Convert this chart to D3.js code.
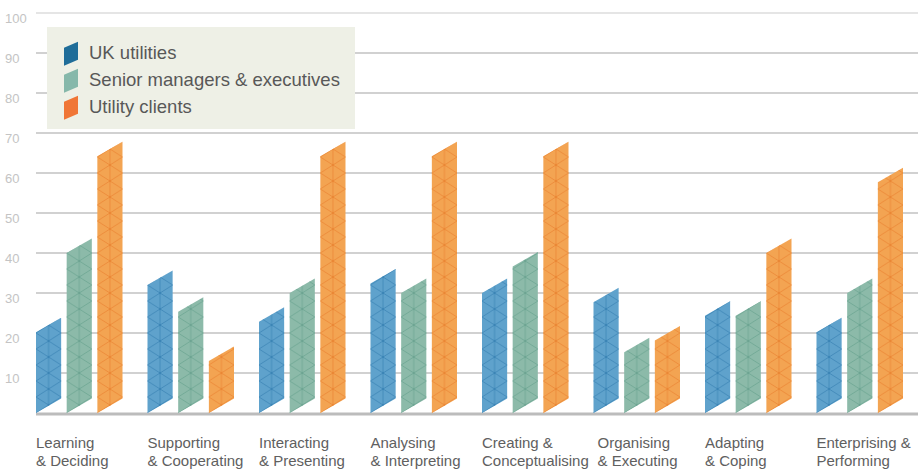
<!DOCTYPE html>
<html>
<head>
<meta charset="UTF-8">
<style>
  body { margin: 0; background: #fff; }
  svg { display: block; font-family: "Liberation Sans", Arial, sans-serif; }
  .ytick { fill: #c4c4c4; font-size: 13px; }
  .xlab { fill: #606060; font-size: 15px; }
  .legend text { fill: #585858; font-size: 18.5px; }
</style>
</head>
<body>
<svg id="chart"></svg>
<script src="https://d3js.org/d3.v7.min.js"></script>
<script>
// data
const categories = [
  ["Learning", "& Deciding"],
  ["Supporting", "& Cooperating"],
  ["Interacting", "& Presenting"],
  ["Analysing", "& Interpreting"],
  ["Creating &", "Conceptualising"],
  ["Organising", "& Executing"],
  ["Adapting", "& Coping"],
  ["Enterprising &", "Performing"]
];
const seriesNames = ["UK utilities", "Senior managers & executives", "Utility clients"];
const ukUtilities = [20.2, 32, 22.8, 32.4, 30, 27.7, 24.3, 20.2];
const seniorManagers = [40, 25.3, 30, 30, 36.6, 15.2, 24.3, 30];
const utilityClients = [64.2, 13, 64.2, 64.2, 64.2, 18.1, 40, 57.7];
const yTicks = [10, 20, 30, 40, 50, 60, 70, 80, 90, 100];

const barColors = ["#5fa2cc", "#8cbaa9", "#f3a452"];
const lineColors = ["#3a82b4", "#6aa390", "#ea8433"];
const swatchColors = ["#1f6d99", "#86b8aa", "#f07636"];

const width = 918, height = 470;
const svg = d3.select("#chart").attr("width", width).attr("height", height);

const x0 = d3.scaleBand().domain(d3.range(categories.length)).range([36, 36 + 8 * 111.5]);
const x1 = d3.scaleBand().domain(d3.range(3)).range([0, 86.5]).paddingInner(0.18);
const y = d3.scaleLinear().domain([0, 100]).range([413, 13]);
const slant = 14.5;

// triangle mesh patterns
const defs = svg.append("defs");
barColors.forEach((c, i) => {
  const w = x1.bandwidth();
  const p = defs.append("pattern")
    .attr("id", "mesh" + i)
    .attr("patternUnits", "userSpaceOnUse")
    .attr("width", w).attr("height", 16)
    .attr("y", 413 % 16);
  p.append("path")
    .attr("d", `M0,0L${w},16M0,16L${w},0M${w / 2},0V16`)
    .attr("stroke", lineColors[i]).attr("stroke-width", 0.9)
    .attr("fill", "none").attr("opacity", 0.8);
  p.append("circle").attr("cx", w / 2).attr("cy", 8).attr("r", 1.2)
    .attr("fill", lineColors[i]).attr("opacity", 0.8);
});

// gridlines
svg.append("g").selectAll("line")
  .data(yTicks).enter().append("line")
  .attr("x1", 36).attr("x2", width)
  .attr("y1", d => y(d)).attr("y2", d => y(d))
  .attr("stroke", d => d === 100 ? "#dcdcdc" : "#c2c2c2")
  .attr("stroke-width", 1.3);

svg.append("g").selectAll("text")
  .data(yTicks).enter().append("text")
  .attr("class", "ytick")
  .attr("x", 5).attr("y", d => y(d) + 10)
  .text(d => d);

// baseline
svg.append("line")
  .attr("x1", 36).attr("x2", width)
  .attr("y1", y(0) + 1).attr("y2", y(0) + 1)
  .attr("stroke", "#bcbcbc").attr("stroke-width", 3);

// bars
const allSeries = [ukUtilities, seniorManagers, utilityClients];
const w = x1.bandwidth();
categories.forEach((cat, ci) => {
  allSeries.forEach((vals, si) => {
    const v = vals[ci];
    const g = svg.append("g").attr("transform", `translate(${x0(ci) + x1(si)},0)`);
    const d = `M0,${y(0)}L${w},${y(0) - slant}L${w},${y(v) - slant}L0,${y(v)}Z`;
    g.append("path").attr("d", d).attr("fill", barColors[si]);
    g.append("path").attr("d", d).attr("fill", `url(#mesh${si})`);
  });
});

// x labels (the Organising label sits a little right of its group)
const labelX = i => x0(i) + (i === 5 ? 4 : 0);
const xl = svg.append("g").selectAll("text")
  .data(categories).enter().append("text")
  .attr("class", "xlab")
  .attr("x", (d, i) => labelX(i))
  .attr("y", 448);
xl.append("tspan").attr("x", (d, i) => labelX(i)).text(d => d[0]);
xl.append("tspan").attr("x", (d, i) => labelX(i)).attr("dy", 18).text(d => d[1]);

// legend
const legend = svg.append("g").attr("class", "legend");
legend.append("rect")
  .attr("x", 47).attr("y", 27).attr("width", 308).attr("height", 102)
  .attr("fill", "#eef0e6");
seriesNames.forEach((name, i) => {
  const top = 41.7 + i * 27;
  legend.append("path")
    .attr("d", `M64,${top + 6}L78,${top}L78,${top + 18}L64,${top + 24}Z`)
    .attr("fill", swatchColors[i]);
  legend.append("text")
    .attr("x", 89).attr("y", top + 17)
    .text(name);
});
</script>
</body>
</html>
